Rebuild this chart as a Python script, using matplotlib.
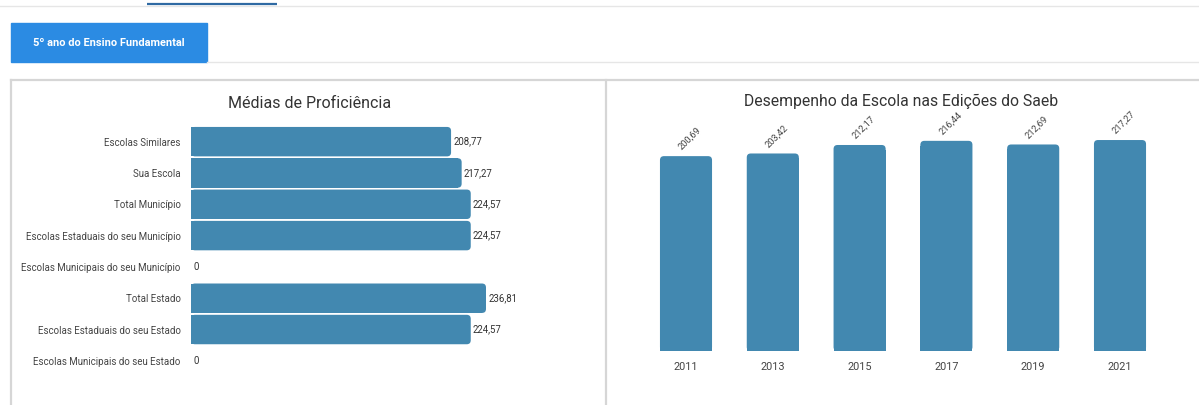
import matplotlib.pyplot as plt
from matplotlib.patches import FancyBboxPatch, Rectangle

plt.rcParams['font.family'] = ['Roboto', 'DejaVu Sans']

W, H = 1199, 405

# Médias de Proficiência
grupos = ['Escolas Similares', 'Sua Escola', 'Total Município',
          'Escolas Estaduais do seu Município', 'Escolas Municipais do seu Município',
          'Total Estado', 'Escolas Estaduais do seu Estado', 'Escolas Municipais do seu Estado']
medias = [208.77, 217.27, 224.57, 224.57, 0, 236.81, 224.57, 0]

# Desempenho nas edições do Saeb
anos = ['2011', '2013', '2015', '2017', '2019', '2021']
notas = [200.69, 203.42, 212.17, 216.44, 212.69, 217.27]

BAR = '#4288b0'
TXT = '#444444'


def fmt(v):
    return f'{v:.2f}'.replace('.', ',') if v else '0'


def box(x0, y0, x1, y1):
    # pixel box (top-left origin) -> figure fraction
    return [x0 / W, 1 - y1 / H, (x1 - x0) / W, (y1 - y0) / H]


fig = plt.figure(figsize=(W / 100, H / 100), dpi=100)

# page chrome
bg = fig.add_axes([0, 0, 1, 1])
bg.set_xlim(0, W)
bg.set_ylim(H, 0)
bg.axis('off')
bg.plot([0, W], [5.5, 5.5], color='#e6e6e6', lw=1)
bg.plot([147, 277], [4, 4], color='#2f6aa3', lw=1.6, solid_capstyle='butt')
bg.add_patch(Rectangle((11, 23), 196, 39, color='#2b8be3'))
bg.text(109, 42.5, '5º ano do Ensino Fundamental', color='white', fontsize=7.9,
        fontweight='bold', ha='center', va='center')
bg.plot([207, W], [62, 62], color='#e6e6e6', lw=1)
bg.plot([11, W], [80, 80], color='#d6d6d6', lw=1.6)
bg.plot([11, 11], [80, H], color='#d6d6d6', lw=1.6)
bg.plot([606, 606], [80, H], color='#d6d6d6', lw=1.6)
bg.text(310, 103, 'Médias de Proficiência', fontsize=11.5, color='#333333',
        ha='center', va='center')
bg.text(901, 101, 'Desempenho da Escola nas Edições do Saeb', fontsize=11.3,
        color='#333333', ha='center', va='center')

# horizontal bars
ax1 = fig.add_axes(box(191, 126, 191 + 300 * 1.2457, 376.5))
ypos = list(range(len(grupos)))
bars = ax1.barh(ypos, medias, height=0.94, color=BAR)
ax1.set_xlim(0, 300)
ax1.set_ylim(len(grupos) - 0.5, -0.5)
ax1.set_yticks(ypos)
ax1.set_yticklabels(grupos, fontsize=7.0, color=TXT)
ax1.tick_params(axis='y', length=0, pad=7.5)
ax1.set_xticks([])
for s in ax1.spines.values():
    s.set_visible(False)
ax1.patch.set_alpha(0)

r = 3.2
for b, v, yp in zip(bars, medias, ypos):
    if v > 0:
        x, y, w, h = b.get_x(), b.get_y(), b.get_width(), b.get_height()
        b.remove()
        ax1.add_patch(FancyBboxPatch((x, y), w, h, boxstyle=f'round,pad=0,rounding_size={r}',
                                     mutation_aspect=0.04, color=BAR, lw=0))
        ax1.add_patch(Rectangle((x, y), w - r, h, color=BAR, lw=0))
    ax1.annotate(fmt(v), (v, yp), xytext=(1.5, 0), textcoords='offset points',
                 fontsize=6.9, color='#333333', ha='left', va='center')

# vertical bars
ax2 = fig.add_axes(box(642.6, 351 - 250 * 0.971, 1163.4, 351))
xpos = list(range(len(anos)))
vbars = ax2.bar(xpos, notas, width=0.6, color=BAR)
ax2.set_xlim(-0.5, len(anos) - 0.5)
ax2.set_ylim(0, 250)
ax2.set_xticks(xpos)
ax2.set_xticklabels(anos, fontsize=7.8, color=TXT)
ax2.tick_params(axis='x', length=0, pad=8)
ax2.set_yticks([])
for s in ax2.spines.values():
    s.set_visible(False)
ax2.patch.set_alpha(0)

rv = 0.046
for b, v, i in zip(vbars, notas, xpos):
    x, y, w, h = b.get_x(), b.get_y(), b.get_width(), b.get_height()
    b.remove()
    ax2.add_patch(FancyBboxPatch((x, y), w, h, boxstyle=f'round,pad=0,rounding_size={rv}',
                                 mutation_aspect=89, color=BAR, lw=0))
    ax2.add_patch(Rectangle((x, y), w, h - 5, color=BAR, lw=0))
    ax2.annotate(fmt(v), (i, v), xytext=(-2, 3), textcoords='offset points',
                 fontsize=6.7, color=TXT, rotation=45, rotation_mode='anchor',
                 ha='left', va='bottom')

fig.savefig('out.png', dpi=100)
